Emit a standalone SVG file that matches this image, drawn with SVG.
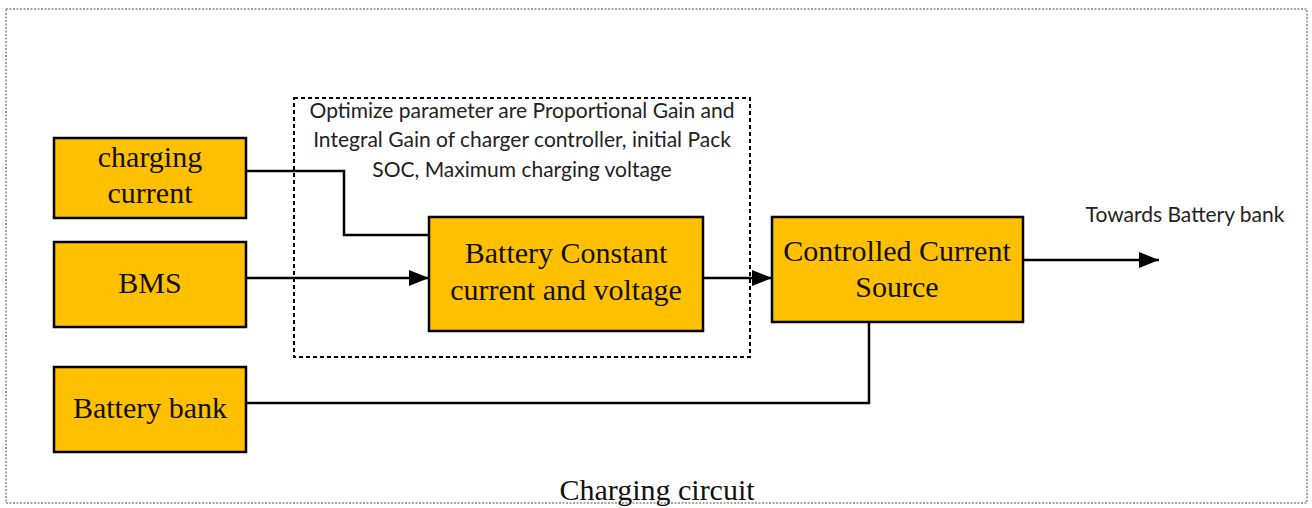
<svg xmlns="http://www.w3.org/2000/svg" width="1312" height="508" viewBox="0 0 1312 508">
<defs>
<marker id="arr" viewBox="0 0 20 16" refX="20" refY="8" markerWidth="20" markerHeight="16" markerUnits="userSpaceOnUse" orient="auto">
<path d="M0,0 L20,8 L0,16 Z" fill="#000"/>
</marker>
<style>
.box{fill:#FFC000;stroke:#000;stroke-width:2.5}
.t{font-family:"Liberation Serif","Times New Roman",serif;font-size:30px;fill:#111;text-anchor:middle}
.s{font-family:Lato,"Liberation Sans",sans-serif;font-size:21px;fill:#222;text-anchor:middle}
.w{fill:none;stroke:#000;stroke-width:2.5}
</style>
</defs>
<rect width="1312" height="508" fill="#fff"/>
<rect id="outer" x="6" y="9" width="1301" height="494" fill="none" stroke="#888" stroke-width="1.5" stroke-dasharray="2 1.5"/>
<rect id="optbox" x="294" y="98" width="456" height="259" fill="none" stroke="#000" stroke-width="2" stroke-dasharray="4 3"/>
<g id="optlabel">
<text class="s" x="522" y="118">Optimize parameter are Proportional Gain and</text>
<text class="s" x="522" y="147">Integral Gain of charger controller, initial Pack</text>
<text class="s" x="522" y="177">SOC, Maximum charging voltage</text>
</g>
<g id="connectors">
<polyline class="w" points="246,171 344,171 344,235 429,235"/>
<line class="w" x1="246" y1="278" x2="429" y2="278" marker-end="url(#arr)"/>
<line class="w" x1="703" y1="278" x2="772" y2="278" marker-end="url(#arr)"/>
<line class="w" x1="1023" y1="260" x2="1159" y2="260" marker-end="url(#arr)"/>
<polyline class="w" points="246,403 869,403 869,322"/>
</g>
<g id="charging-current">
<rect class="box" x="54" y="138" width="192" height="80"/>
<text class="t" x="150" y="167">charging</text>
<text class="t" x="150" y="203">current</text>
</g>
<g id="bms">
<rect class="box" x="54" y="242" width="192" height="85"/>
<text class="t" x="150" y="293">BMS</text>
</g>
<g id="battery-bank">
<rect class="box" x="54" y="367" width="192" height="85"/>
<text class="t" x="150" y="418">Battery bank</text>
</g>
<g id="battery-cc-cv">
<rect class="box" x="429" y="217" width="274" height="114"/>
<text class="t" x="566" y="263">Battery Constant</text>
<text class="t" x="566" y="300">current and voltage</text>
</g>
<g id="controlled-current-source">
<rect class="box" x="772" y="217" width="251" height="105"/>
<text class="t" x="897" y="261">Controlled Current</text>
<text class="t" x="897" y="297">Source</text>
</g>
<g id="labels">
<text class="s" x="1185" y="222">Towards Battery bank</text>
<text class="t" x="657" y="500">Charging circuit</text>
</g>
</svg>
